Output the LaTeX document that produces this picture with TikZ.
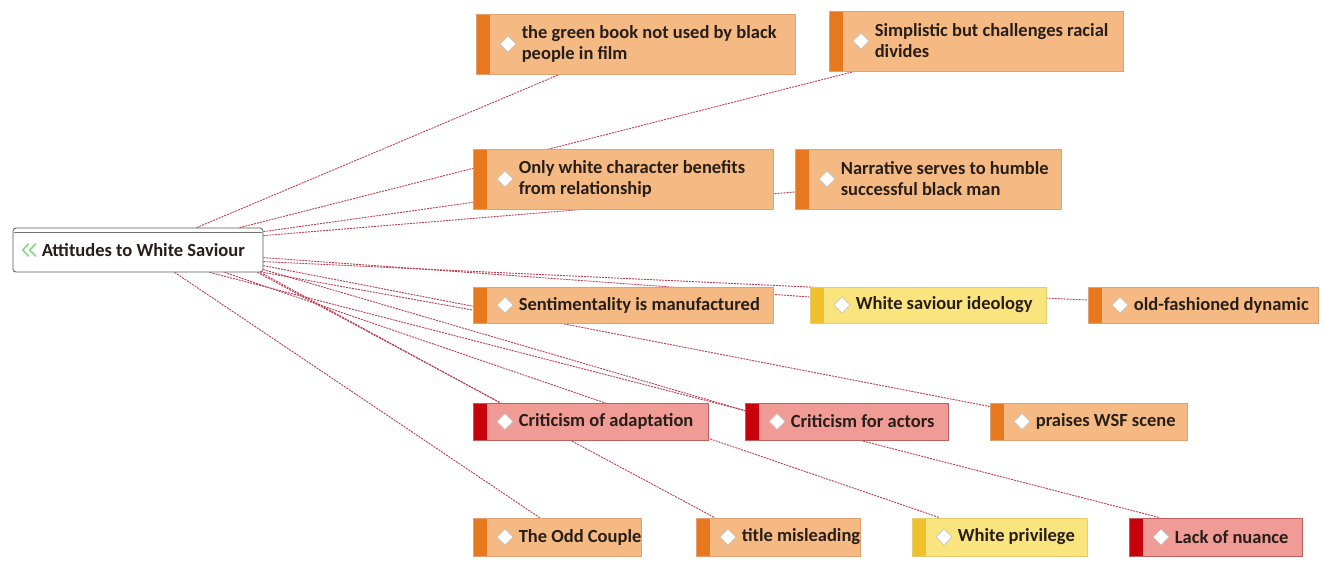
\documentclass[tikz,border=0pt]{standalone}
\usepackage{fontspec}
\setmainfont{Carlito}
\usetikzlibrary{backgrounds,calc}
\definecolor{ofill}{RGB}{245,186,132}
\definecolor{obarc}{RGB}{232,120,30}
\definecolor{oedge}{RGB}{226,160,112}
\definecolor{yfill}{RGB}{250,228,125}
\definecolor{ybarc}{RGB}{240,192,45}
\definecolor{yedge}{RGB}{228,205,110}
\definecolor{rfill}{RGB}{240,155,150}
\definecolor{rbarc}{RGB}{200,0,12}
\definecolor{redge}{RGB}{190,95,95}
\definecolor{linkc}{RGB}{185,60,80}
\definecolor{txt}{RGB}{40,30,25}
\tikzset{
  box/.style={draw=#1edge, fill=#1fill, line width=0.8pt, inner sep=0pt,
    path picture={
      \fill[#1barc] (path picture bounding box.north west) rectangle ([xshift=14pt]path picture bounding box.south west);
      \filldraw[fill=white, draw=black!25, line width=0.6pt]
        ([xshift=24pt]path picture bounding box.west) -- ++(8,-8) -- ++(8,8) -- ++(-8,8) -- cycle;
    }},
  lbl/.style={anchor=west, align=left, inner sep=0pt, text=txt,
    font=\bfseries\fontsize{18.5}{21}\selectfont},
  rootbox/.style={draw=black!65, fill=white, line width=0.8pt, rounded corners=3pt, inner sep=0pt},
  linkline/.style={draw=linkc, line width=0.9pt, dash pattern=on 2pt off 1pt},
}
\newcommand\topicbox[7]{%
  \node[box=#6, minimum width={#4-#2}, minimum height={#5-#3}] (#1) at ({(#2+#4)/2},{(#3+#5)/2}) {};
  \node[lbl] (#1t) at ($(#1.west)+(46,0)$) {#7};
}
\begin{document}
\begin{tikzpicture}[x=1pt,y=-1pt]
\useasboundingbox (0,0) rectangle (1327,563);
% root
\node[rootbox, minimum width=250, minimum height=44] (root) at (138,250) {};
\draw[black!55, line width=0.6pt] ($(root.north west)+(1,4.5)$) -- ($(root.north east)+(-1,4.5)$);
\draw[green!45!gray!60, line width=1.8pt, line cap=round, line join=round]
  ($(root.west)+(16,-6)$) -- ++(-6,6) -- ++(6,6)
  ($(root.west)+(23,-6)$) -- ++(-6,6) -- ++(6,6);
\node[lbl] (roott) at ($(root.west)+(29,0)$) {Attitudes to White Saviour};
% topics
\topicbox{gb}{476}{14}{795}{74}{o}{the green book not used by black\\people in film}
\topicbox{simp}{829}{11}{1123}{71}{o}{Simplistic but challenges racial\\divides}
\topicbox{ow}{473}{149}{773}{209}{o}{Only white character benefits\\from relationship}
\topicbox{nar}{795}{149}{1061}{209}{o}{Narrative serves to humble\\successful black man}
\topicbox{sent}{473}{287}{773}{323}{o}{Sentimentality is manufactured}
\topicbox{wsi}{810}{287}{1046}{323}{y}{White saviour ideology}
\topicbox{old}{1088}{287}{1318}{323}{o}{old-fashioned dynamic}
\topicbox{cad}{473}{403}{708}{440}{r}{Criticism of adaptation}
\topicbox{cac}{745}{403}{948}{440}{r}{Criticism for actors}
\topicbox{pra}{990}{403}{1187}{440}{o}{praises WSF scene}
\topicbox{oc}{473}{518}{641}{556}{o}{The Odd Couple}
\topicbox{tm}{696}{518}{860}{556}{o}{title misleading}
\topicbox{wp}{912}{518}{1087}{556}{y}{White privilege}
\topicbox{ln}{1129}{518}{1302}{556}{r}{Lack of nuance}
% connectors
\begin{scope}[on background layer]
\draw[linkline] ($(root.north west)+(184,0)$) -- ($(gb.south west)+(84,0)$);
\draw[linkline] ($(root.north west)+(227,0)$) -- ($(simp.south west)+(26,0)$);
\draw[linkline] ($(root.north east)+(0,4)$) -- ($(ow.south west)+(0,-7)$);
\draw[linkline] ($(root.north east)+(0,8)$) -- ($(nar.west)+(0,13)$);
\draw[linkline] ($(root.north east)+(0,30)$) -- ($(wsi.west)+(0,-8)$);
\draw[linkline] ($(root.north east)+(0,34)$) -- ($(old.west)+(0,-5)$);
\draw[linkline] ($(root.north east)+(0,38)$) -- ($(pra.west)+(0,-15)$);
\draw[linkline] ($(root.north east)+(0,42)$) -- ($(cac.west)+(0,-11)$);
\draw[linkline] (root.south east) -- ($(sent.west)+(0,5)$);
\draw[linkline] ($(root.south east)+(-3,0)$) -- ($(cad.north west)+(27,0)$);
\draw[linkline] ($(root.south east)+(-6,0)$) -- ($(tm.north west)+(19,0)$);
\draw[linkline] ($(root.south west)+(212,0)$) -- ($(wp.north west)+(28,0)$);
\draw[linkline] ($(root.south west)+(197,0)$) -- ($(ln.north west)+(31,0)$);
\draw[linkline] ($(root.south west)+(162,0)$) -- ($(oc.north west)+(67,0)$);
\end{scope}
\end{tikzpicture}
\end{document}
